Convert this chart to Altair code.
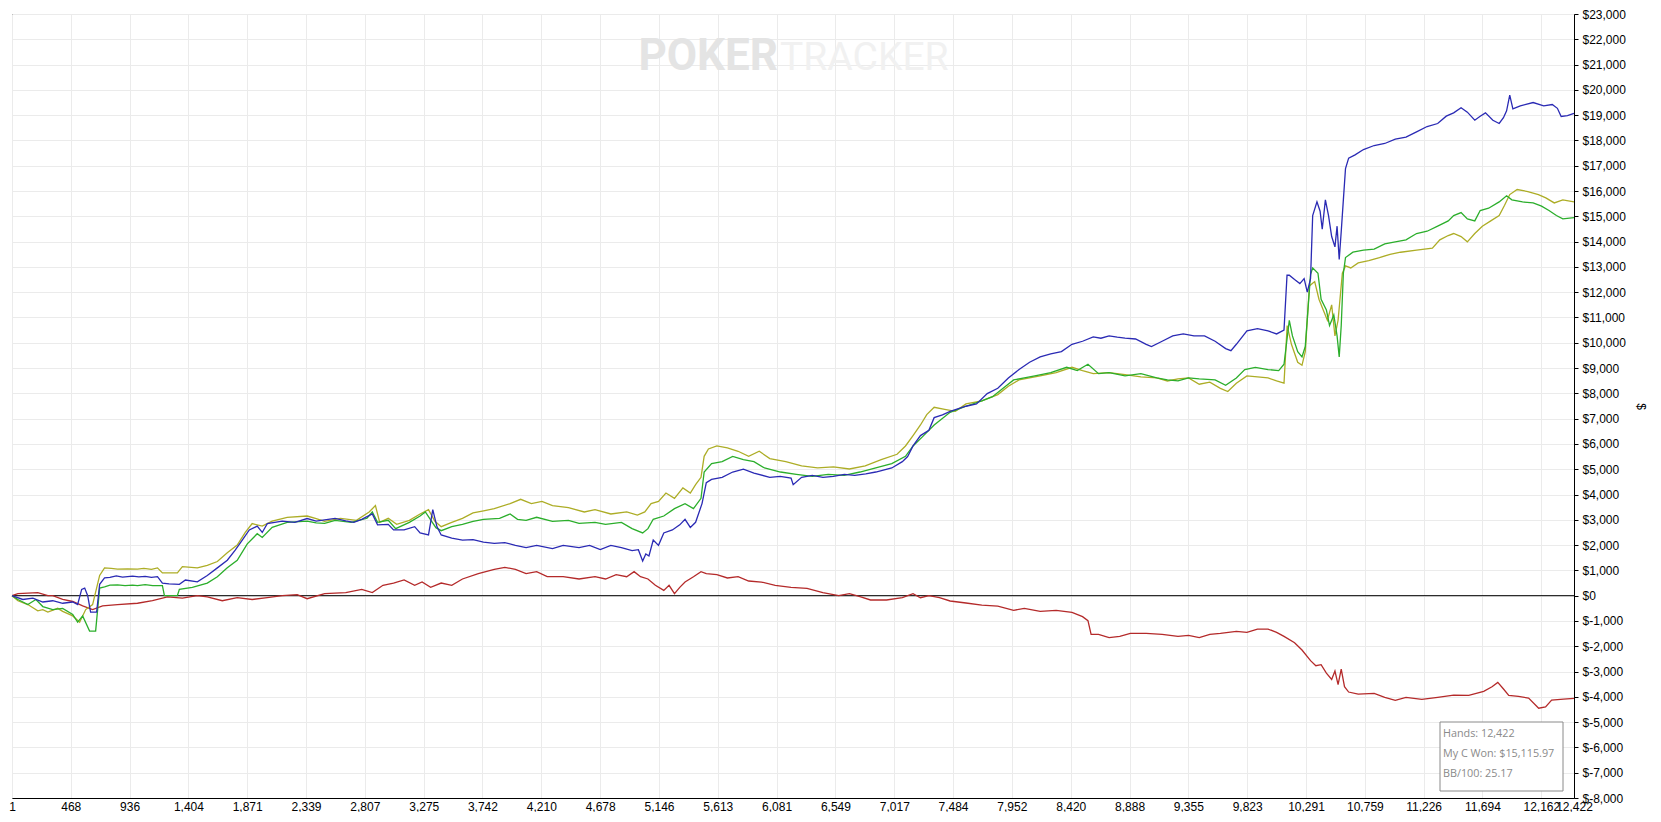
import altair as alt
import pandas as pd

# ---------------- data (hands, cumulative $) ----------------
x_ticks = [1, 468, 936, 1404, 1871, 2339, 2807, 3275, 3742, 4210, 4678, 5146, 5613,
           6081, 6549, 7017, 7484, 7952, 8420, 8888, 9355, 9823, 10291, 10759, 11226,
           11694, 12162, 12422]
y_ticks = list(range(-8000, 23001, 1000))

blue_pts = [
    (1, 0), (87, -150), (167, -100), (246, -250), (325, -200), (404, -300), (484, -250),
    (523, -350), (555, 250), (579, 300), (603, 0), (626, -650), (674, -650), (698, 450),
    (737, 700), (780, 720), (830, 780), (880, 730), (960, 770), (1010, 740), (1060, 760),
    (1110, 720), (1158, 750), (1197, 500), (1250, 470), (1332, 450), (1380, 620), (1475, 550),
    (1554, 800), (1634, 1100), (1713, 1400), (1776, 1800), (1832, 2200), (1888, 2600),
    (1951, 2750), (1991, 2500), (2031, 2850), (2150, 2950), (2250, 2900), (2348, 3050),
    (2420, 2950), (2487, 3000), (2570, 3060), (2655, 2960), (2720, 2900), (2782, 3020),
    (2866, 3230), (2908, 2800), (2993, 2820), (3035, 2600),
    (3119, 2600), (3203, 2730), (3246, 2480), (3313, 2400), (3347, 3400), (3380, 2730),
    (3414, 2400), (3498, 2280), (3583, 2200), (3667, 2220), (3750, 2120), (3836, 2070),
    (3920, 2100), (4004, 1990), (4089, 1900), (4173, 1990), (4299, 1860), (4384, 1990),
    (4510, 1900), (4594, 1990), (4679, 1820), (4763, 1990), (4847, 1900), (4932, 1780),
    (4982, 1820), (5016, 1370), (5041, 1650), (5066, 1570), (5100, 2200), (5142, 1990),
    (5184, 2480), (5252, 2600), (5311, 2800), (5353, 3020), (5395, 2700), (5437, 2900),
    (5488, 3640), (5522, 4470), (5564, 4600), (5648, 4680), (5732, 4890), (5817, 5000),
    (5901, 4850), (6027, 4680), (6110, 4720), (6196, 4650), (6213, 4390), (6280, 4680),
    (6365, 4760), (6450, 4680), (6533, 4720), (6620, 4800), (6702, 4760), (6790, 4820),
    (6870, 4890), (6997, 5050), (7081, 5300), (7123, 5500), (7166, 5920), (7225, 6330),
    (7292, 6540), (7334, 7040), (7400, 7150), (7461, 7290), (7587, 7490), (7671, 7580),
    (7756, 7990), (7840, 8200), (7924, 8610), (8009, 8940), (8093, 9230), (8177, 9440),
    (8261, 9560), (8346, 9650), (8430, 9940), (8514, 10060), (8599, 10230), (8660, 10180),
    (8725, 10270), (8790, 10220), (8852, 10180), (8936, 10150), (9020, 9940), (9062, 9850),
    (9147, 10060), (9231, 10270), (9315, 10350), (9400, 10270), (9484, 10270), (9568, 10060),
    (9652, 9770), (9694, 9690), (9737, 9940), (9821, 10470), (9905, 10560), (9989, 10470),
    (10057, 10350), (10116, 10500), (10140, 12670), (10158, 12670), (10200, 12500),
    (10242, 12340), (10276, 12540), (10301, 12000), (10327, 12540), (10344, 15030),
    (10378, 15570), (10403, 15200), (10420, 14490), (10445, 15650), (10470, 15030),
    (10495, 14200), (10521, 13790), (10538, 14610), (10555, 13290), (10571, 14400),
    (10588, 15650), (10605, 16890), (10630, 17300), (10681, 17430), (10748, 17640),
    (10833, 17800), (10917, 17880), (11001, 18050), (11086, 18130), (11170, 18340),
    (11254, 18550), (11338, 18670), (11406, 18960), (11465, 19090), (11524, 19290),
    (11574, 19120), (11633, 18800), (11676, 18960), (11718, 19090), (11777, 18800),
    (11827, 18670), (11861, 18900), (11886, 19170), (11911, 19790), (11936, 19250),
    (11995, 19370), (12097, 19500), (12181, 19370), (12249, 19420), (12290, 19270),
    (12320, 18950), (12370, 18980), (12422, 19070),
]

green_pts = [
    (1, 0), (48, -150), (127, -350), (191, -150), (246, -430), (325, -550), (404, -500),
    (484, -740), (523, -1050), (563, -800), (618, -1400), (666, -1400), (698, 300),
    (737, 350), (780, 420), (840, 430), (900, 400), (960, 420), (999, 400), (1060, 440),
    (1120, 400), (1197, 400), (1213, 0), (1316, 0), (1332, 250), (1435, 330), (1554, 500),
    (1634, 750), (1713, 1100), (1792, 1400), (1872, 2050), (1951, 2450), (1991, 2300),
    (2070, 2700), (2189, 2900), (2348, 2950), (2420, 2880), (2487, 2860),
    (2571, 2980), (2698, 2900), (2824, 3060), (2866, 3310), (2908, 2900), (2993, 2980),
    (3052, 2650), (3161, 2900), (3246, 3150), (3288, 3310), (3330, 3000), (3372, 2690),
    (3414, 2570), (3498, 2730), (3583, 2820), (3667, 2940), (3751, 3020), (3878, 3060),
    (3962, 3230), (4021, 3020), (4089, 2980), (4173, 3100), (4299, 2940), (4426, 2980),
    (4510, 2860), (4637, 2900), (4721, 2820), (4847, 2900), (4932, 2650), (5016, 2480),
    (5058, 2650), (5100, 3020), (5184, 3150), (5269, 3440), (5353, 3640), (5420, 3440),
    (5480, 3850), (5505, 4890), (5564, 5220), (5648, 5300), (5732, 5510), (5817, 5380),
    (5901, 5300), (5985, 5050), (6112, 4890), (6238, 4800), (6365, 4720), (6491, 4800),
    (6618, 4760), (6744, 4890), (6870, 5050), (6997, 5220), (7106, 5510), (7166, 5920),
    (7250, 6330), (7334, 6750), (7461, 7250), (7587, 7490), (7713, 7700), (7798, 7870),
    (7882, 8200), (7966, 8530), (8051, 8610), (8135, 8690), (8261, 8820), (8388, 9030),
    (8472, 8900), (8557, 9150), (8641, 8780), (8725, 8820), (8852, 8690), (8978, 8780),
    (9104, 8610), (9189, 8530), (9273, 8490), (9357, 8610), (9442, 8570), (9568, 8530),
    (9652, 8320), (9737, 8610), (9804, 8940), (9888, 9030), (9989, 8940), (10074, 8900),
    (10116, 9150), (10158, 10890), (10183, 10270), (10225, 9650), (10259, 9440),
    (10285, 9850), (10327, 12700), (10344, 12960), (10386, 12750), (10411, 11720),
    (10453, 11300), (10478, 10680), (10512, 11100), (10538, 10270), (10555, 9440),
    (10571, 10680), (10588, 12750), (10605, 13370), (10664, 13580), (10748, 13660),
    (10833, 13700), (10917, 13910), (11001, 13990), (11086, 14070), (11170, 14320),
    (11254, 14410), (11338, 14610), (11422, 14820), (11465, 15030), (11524, 15150),
    (11574, 14900), (11633, 14820), (11676, 15230), (11743, 15320), (11827, 15570),
    (11886, 15810), (11928, 15650), (12013, 15570), (12097, 15530), (12164, 15400),
    (12223, 15230), (12282, 15030), (12333, 14900), (12422, 14950),
]

olive_pts = [
    (1, 0), (48, -200), (127, -350), (206, -600), (246, -550), (286, -650), (365, -500),
    (404, -620), (484, -800), (539, -1050), (587, -550), (642, -350), (698, 800),
    (737, 1100), (790, 1080), (840, 1050), (920, 1060), (999, 1050), (1050, 1080),
    (1110, 1040), (1158, 1100), (1197, 900), (1316, 900), (1356, 1150), (1475, 1100),
    (1554, 1200), (1634, 1350), (1713, 1700), (1792, 2000), (1856, 2500), (1911, 2850),
    (1991, 2750), (2070, 2950), (2189, 3100), (2348, 3150), (2420, 3050),
    (2487, 2940), (2613, 3060), (2740, 2980), (2841, 3310), (2891, 3560), (2925, 2900),
    (2993, 3060), (3060, 2820), (3161, 2980), (3246, 3230), (3313, 3400), (3364, 2940),
    (3414, 2730), (3498, 2900), (3583, 3060), (3667, 3270), (3751, 3350), (3836, 3440),
    (3962, 3640), (4046, 3810), (4131, 3640), (4215, 3730), (4299, 3560), (4426, 3480),
    (4552, 3310), (4637, 3400), (4763, 3230), (4889, 3310), (4974, 3190), (5033, 3310),
    (5083, 3640), (5142, 3730), (5201, 4060), (5269, 3850), (5336, 4260), (5395, 4060),
    (5437, 4390), (5480, 4680), (5505, 5510), (5539, 5800), (5606, 5920), (5690, 5840),
    (5775, 5710), (5859, 5510), (5943, 5710), (6027, 5420), (6154, 5300), (6280, 5130),
    (6407, 5050), (6533, 5090), (6660, 5010), (6786, 5130), (6913, 5380), (7039, 5590),
    (7106, 5920), (7166, 6330), (7225, 6750), (7275, 7160), (7334, 7450), (7418, 7370),
    (7503, 7290), (7587, 7580), (7713, 7700), (7840, 7950), (7924, 8280), (8009, 8530),
    (8093, 8610), (8177, 8690), (8304, 8820), (8430, 9030), (8514, 8900), (8599, 8780),
    (8725, 8820), (8852, 8740), (8978, 8650), (9104, 8610), (9189, 8490), (9273, 8570),
    (9357, 8610), (9442, 8360), (9526, 8440), (9610, 8200), (9669, 8070), (9737, 8400),
    (9821, 8690), (9905, 8650), (9989, 8610), (10057, 8490), (10116, 8400), (10141, 10680),
    (10175, 9940), (10225, 9230), (10259, 9110), (10285, 9650), (10318, 12250),
    (10360, 12420), (10394, 11720), (10428, 11300), (10461, 10890), (10495, 11500),
    (10521, 10270), (10546, 10890), (10580, 12750), (10605, 13040), (10647, 12960),
    (10706, 13160), (10790, 13250), (10875, 13370), (10959, 13500), (11043, 13580),
    (11170, 13660), (11296, 13740), (11355, 14070), (11422, 14240), (11465, 14320),
    (11524, 14200), (11574, 13990), (11633, 14320), (11693, 14610), (11760, 14820),
    (11827, 15030), (11870, 15440), (11911, 15860), (11970, 16060), (12055, 15980),
    (12139, 15860), (12198, 15730), (12265, 15530), (12333, 15650), (12422, 15570),
]

red_pts = [
    (1, 0), (48, 80), (206, 120), (286, 0), (325, 0), (404, -150), (484, -230),
    (563, -400), (642, -550), (721, -400), (840, -350), (999, -300), (1118, -200),
    (1237, -50), (1356, -100), (1475, 0), (1554, -50), (1673, -200), (1792, -80),
    (1911, -150), (2031, -80), (2150, 0), (2269, 40), (2348, -120), (2487, 80),
    (2655, 120), (2782, 250), (2866, 120), (2951, 410), (3035, 500), (3119, 620),
    (3203, 410), (3262, 540), (3330, 330), (3414, 500), (3498, 410), (3583, 660),
    (3709, 870), (3836, 1040), (3920, 1120), (4004, 1040), (4089, 870), (4173, 950),
    (4257, 750), (4384, 750), (4510, 660), (4637, 750), (4721, 660), (4805, 830),
    (4889, 750), (4948, 950), (4999, 750), (5058, 660), (5117, 410), (5184, 210),
    (5226, 410), (5269, 80), (5311, 330), (5353, 540), (5420, 750), (5480, 950),
    (5522, 870), (5606, 830), (5690, 700), (5775, 750), (5859, 580), (5960, 540),
    (6070, 410), (6196, 330), (6323, 290), (6449, 120), (6575, 0), (6660, 80),
    (6744, -40), (6828, -170), (6955, -170), (7081, -80), (7166, 80), (7225, -80),
    (7292, 0), (7376, -80), (7461, -210), (7587, -290), (7713, -370), (7840, -410),
    (7966, -580), (8051, -500), (8177, -620), (8304, -580), (8430, -660), (8514, -830),
    (8557, -990), (8582, -1530), (8641, -1530), (8725, -1660), (8810, -1610),
    (8894, -1490), (9020, -1490), (9147, -1530), (9273, -1610), (9357, -1570),
    (9442, -1660), (9526, -1530), (9610, -1490), (9737, -1410), (9821, -1450),
    (9905, -1320), (9989, -1320), (10057, -1450), (10116, -1610), (10200, -1860),
    (10259, -2150), (10327, -2570), (10369, -2770), (10411, -2730), (10453, -3060),
    (10495, -3310), (10521, -2980), (10546, -3520), (10571, -2900), (10597, -3600),
    (10630, -3810), (10706, -3890), (10833, -3860), (10917, -4020), (11001, -4140),
    (11086, -4020), (11212, -4100), (11338, -4020), (11465, -3930), (11585, -3940),
    (11704, -3780), (11770, -3600), (11816, -3430), (11863, -3700), (11903, -3940),
    (11980, -3980), (12061, -4050), (12141, -4450), (12196, -4400), (12244, -4130),
    (12339, -4090), (12422, -4060),
]

series = [
    ("red", red_pts, "#b42a2a"),
    ("olive", olive_pts, "#adad26"),
    ("green", green_pts, "#2bae2b"),
    ("blue", blue_pts, "#2a2ab4"),
]

zero_level = [0]
info_lines = ["Hands: 12,422", "My C Won: $15,115.97", "BB/100: 25.17"]

# ---------------- chart ----------------
W, H = 1562, 784
FONT = "Liberation Sans"

x_enc = alt.X(
    "hand:Q",
    scale=alt.Scale(domain=[1, 12422], nice=False, zero=False),
    axis=alt.Axis(
        values=x_ticks, labelExpr="format(datum.value, ',')", ticks=False,
        labelPadding=3, grid=True, gridColor="#ebebeb", domainColor="black",
        labelFont=FONT, labelFontSize=12, labelColor="black", labelOverlap=False,
        labelFlush=False, labelBound=False, title=None,
    ),
)
y_enc = alt.Y(
    "won:Q",
    scale=alt.Scale(domain=[-8000, 23000], nice=False, zero=False),
    axis=alt.Axis(
        orient="right", values=y_ticks,
        labelExpr="(datum.value < 0 ? '$-' : '$') + format(abs(datum.value), ',')",
        tickSize=4, tickColor="black", labelPadding=4, grid=True, gridColor="#ebebeb",
        domainColor="black", labelFont=FONT, labelFontSize=12, labelColor="black",
        labelOverlap=False, labelBound=False, title="$", titleFont=FONT, titleFontSize=12,
        titleFontWeight="normal", titleColor="black", titlePadding=8,
    ),
)

one = pd.DataFrame({"k": [0]})

wm_poker = alt.Chart(one).mark_text(
    text="POKER", font="Roboto", fontSize=44, fontWeight="bold", color="#e4e4e4",
    align="right", baseline="middle",
).encode(x=alt.value(766), y=alt.value(43))
wm_tracker = alt.Chart(one).mark_text(
    text="TRACKER", font="Roboto", fontSize=39, fontWeight="normal", color="#f1f1f1",
    align="left", baseline="middle",
).encode(x=alt.value(768), y=alt.value(44))

zero_df = pd.DataFrame({"won": zero_level})
zero_rule = alt.Chart(zero_df).mark_rule(color="black", strokeWidth=1).encode(y=y_enc)

layers = [wm_poker, wm_tracker, zero_rule]
for name, pts, col in series:
    df = pd.DataFrame(pts, columns=["hand", "won"])
    layers.append(
        alt.Chart(df).mark_line(color=col, strokeWidth=1.3, interpolate="linear").encode(
            x=x_enc, y=y_enc
        )
    )

box = alt.Chart(one).mark_rect(fill="white", stroke="#8a8a8a", strokeWidth=1).encode(
    x=alt.value(1428), x2=alt.value(1551), y=alt.value(708), y2=alt.value(777)
)
layers.append(box)
for i, line in enumerate(info_lines):
    layers.append(
        alt.Chart(one).mark_text(
            text=line, font="Open Sans", fontSize=10.8, color="#8a8a8a",
            align="left", baseline="middle",
        ).encode(x=alt.value(1431), y=alt.value(720 + 20 * i))
    )

chart = (
    alt.layer(*layers)
    .properties(width=W, height=H, padding=0, background="white")
    .configure_view(stroke="black", strokeWidth=1)
)

chart.save("out.html", embed_options={"renderer": "svg", "actions": False})
